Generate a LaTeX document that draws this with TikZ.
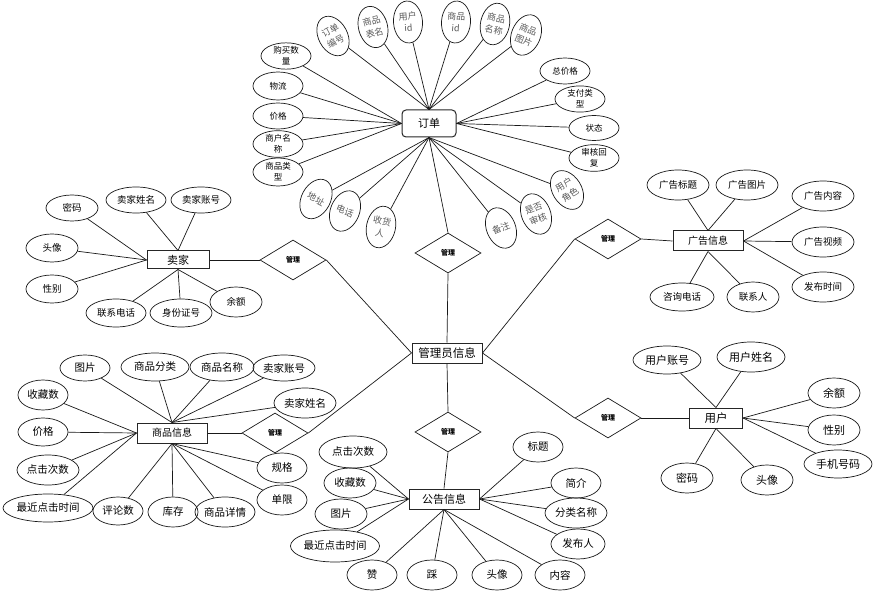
\documentclass[tikz,border=0pt]{standalone}
\usepackage{fontspec}
\newfontfamily\cjk{Noto Sans CJK SC}
\usetikzlibrary{shapes.geometric}
\tikzset{
  ent/.style={draw=black!85, line width=1pt, inner sep=0pt, fill=white},
  att/.style={draw=black!90, ellipse, inner sep=0pt, line width=0.7pt, align=center},
  rel/.style={draw=black!90, diamond, inner sep=0pt, minimum width=66pt, minimum height=40pt, line width=0.7pt, font=\cjk\bfseries\fontsize{7}{8}\selectfont},
  conn/.style={line width=0.7pt, black!90},
  rot/.style={att, text=black!65, font=\cjk\fontsize{9}{12}\selectfont, minimum width=29pt, minimum height=42pt},
  fa/.style={font=\cjk\fontsize{8.5}{11}\selectfont},
  fb/.style={font=\cjk\fontsize{9.5}{11}\selectfont},
  fc/.style={font=\cjk\fontsize{10.5}{12}\selectfont},
  fd/.style={font=\cjk\fontsize{11}{13}\selectfont},
}
\begin{document}
\begin{tikzpicture}[x=1pt,y=-1pt]
\useasboundingbox[fill=white] (0,0) rectangle (884,596);

% ---------- entities ----------
\node[ent, rounded corners=4pt, minimum width=54pt, minimum height=27pt, font=\cjk\fontsize{11}{13}\selectfont] (dd) at (429,123.5) {订单};
\node[ent, minimum width=70pt, minimum height=20pt, font=\cjk\fontsize{11.5}{13}\selectfont] (gly) at (447,353) {管理员信息};
\node[ent, minimum width=62pt, minimum height=18pt, font=\cjk\fontsize{11}{13}\selectfont] (mj) at (178,260) {卖家};
\node[ent, minimum width=70pt, minimum height=20pt, font=\cjk\fontsize{10}{12}\selectfont] (sp) at (172,433) {商品信息};
\node[ent, minimum width=70pt, minimum height=20pt, font=\cjk\fontsize{10}{12}\selectfont] (gx) at (708,241) {广告信息};
\node[ent, minimum width=53pt, minimum height=20pt, font=\cjk\fontsize{11.5}{13}\selectfont] (yh) at (716,418) {用户};
\node[ent, minimum width=70pt, minimum height=20pt, font=\cjk\fontsize{11}{13}\selectfont] (gg) at (444,499) {公告信息};

% ---------- relationships ----------
\node[rel] (r1) at (293,260) {管理};
\node[rel] (r2) at (448,253) {管理};
\node[rel] (r3) at (608,239) {管理};
\node[rel] (r4) at (275,433) {管理};
\node[rel] (r5) at (448,432) {管理};
\node[rel] (r6) at (608,418) {管理};

\draw[conn] (mj.east) -- (r1.west);
\draw[conn] (r1.east) -- (gly.west);
\draw[conn] (dd.south) -- (r2.north);
\draw[conn] (r2.south) -- (gly.north);
\draw[conn] (r3.east) -- (gx.west);
\draw[conn] (r3.west) -- (gly.east);
\draw[conn] (sp.east) -- (r4.west);
\draw[conn] (r4.east) -- (gly.west);
\draw[conn] (gly.south) -- (r5.north);
\draw[conn] (r5.south) -- (gg.north);
\draw[conn] (r6.east) -- (yh.west);
\draw[conn] (r6.west) -- (gly.east);

% ---------- 订单 attributes ----------
\node[rot, rotate=28] (o1) at (333,36) {订单\\编号};
\node[rot, rotate=15] (o2) at (373,27) {商品\\表名};
\node[rot, rotate=4] (o3) at (408,22) {用户\\id};
\node[rot, rotate=-4] (o4) at (456,22) {商品\\id};
\node[rot, rotate=-12] (o5) at (495,24) {商品\\名称};
\node[rot, rotate=-22] (o6) at (526,35) {商品\\图片};
\foreach \n in {o1,o2,o3,o4,o5,o6} \draw[conn] (dd.north) -- (\n);

\node[att, fa, minimum width=50pt, minimum height=26pt] (o7) at (286,56) {购买数\\量};
\node[att, fa, minimum width=50pt, minimum height=28pt] (o8) at (278,86) {物流};
\node[att, fa, minimum width=50pt, minimum height=26pt] (o9) at (278,116) {价格};
\node[att, fa, minimum width=50pt, minimum height=26pt] (o10) at (278,144) {商户名\\称};
\node[att, fa, minimum width=50pt, minimum height=28pt] (o11) at (278,172) {商品类\\型};
\foreach \n in {o7,o8,o9,o10,o11} \draw[conn] (dd.west) -- (\n);

\node[rot, rotate=-28] (o12) at (316,199) {地址};
\node[rot, rotate=-22] (o13) at (345,211) {电话};
\node[rot, rotate=-12] (o14) at (381,227) {收货\\人};
\node[rot, rotate=22] (o15) at (501,228) {备注};
\node[rot, rotate=22] (o16) at (536,214) {是否\\审核};
\node[rot, rotate=32] (o17) at (567,190) {用户\\角色};
\foreach \n in {o12,o13,o14,o15,o16,o17} \draw[conn] (dd.south) -- (\n);

\node[att, fa, minimum width=50pt, minimum height=26pt] (o18) at (565,71) {总价格};
\node[att, fa, minimum width=50pt, minimum height=25pt] (o19) at (580,99) {支付类\\型};
\node[att, fa, minimum width=50pt, minimum height=25pt] (o20) at (594,128) {状态};
\node[att, fa, minimum width=50pt, minimum height=26pt] (o21) at (594,158) {审核回\\复};
\foreach \n in {o18,o19,o20,o21} \draw[conn] (dd.east) -- (\n);

% ---------- 卖家 attributes ----------
\node[att, fb, minimum width=52pt, minimum height=26pt] (m1) at (72,208) {密码};
\node[att, fb, minimum width=52pt, minimum height=28pt] (m2) at (52,248) {头像};
\node[att, fb, minimum width=52pt, minimum height=28pt] (m3) at (52,289) {性别};
\foreach \n in {m1,m2,m3} \draw[conn] (mj.west) -- (\n);
\node[att, fb, minimum width=60pt, minimum height=26pt] (m4) at (136,200) {卖家姓名};
\node[att, fb, minimum width=60pt, minimum height=26pt] (m5) at (201,200) {卖家账号};
\foreach \n in {m4,m5} \draw[conn] (mj.north) -- (\n);
\node[att, fb, minimum width=60pt, minimum height=28pt] (m6) at (116,313) {联系电话};
\node[att, fb, minimum width=62pt, minimum height=28pt] (m7) at (181,313) {身份证号};
\node[att, fb, minimum width=52pt, minimum height=30pt] (m8) at (236,302) {余额};
\foreach \n in {m6,m7,m8} \draw[conn] (mj.south) -- (\n);

% ---------- 广告信息 attributes ----------
\node[att, fb, minimum width=62pt, minimum height=30pt] (a1) at (678,185) {广告标题};
\node[att, fb, minimum width=62pt, minimum height=30pt] (a2) at (747,185) {广告图片};
\foreach \n in {a1,a2} \draw[conn] (gx.north) -- (\n);
\node[att, fb, minimum width=62pt, minimum height=30pt] (a3) at (823,196) {广告内容};
\node[att, fb, minimum width=62pt, minimum height=30pt] (a4) at (823,242) {广告视频};
\node[att, fb, minimum width=62pt, minimum height=30pt] (a5) at (823,287) {发布时间};
\foreach \n in {a3,a4,a5} \draw[conn] (gx.east) -- (\n);
\node[att, fb, minimum width=64pt, minimum height=28pt] (a6) at (682,297) {咨询电话};
\node[att, fb, minimum width=52pt, minimum height=30pt] (a7) at (753,297) {联系人};
\foreach \n in {a6,a7} \draw[conn] (gx.south) -- (\n);

% ---------- 用户 attributes ----------
\node[att, fd, minimum width=68pt, minimum height=28pt] (u1) at (667,360) {用户账号};
\node[att, fd, minimum width=68pt, minimum height=30pt] (u2) at (751,357) {用户姓名};
\foreach \n in {u1,u2} \draw[conn] (yh.north) -- (\n);
\node[att, fd, minimum width=52pt, minimum height=30pt] (u3) at (834,393) {余额};
\node[att, fd, minimum width=52pt, minimum height=30pt] (u4) at (834,430) {性别};
\node[att, fd, minimum width=68pt, minimum height=28pt] (u5) at (838,464) {手机号码};
\foreach \n in {u3,u4,u5} \draw[conn] (yh.east) -- (\n);
\node[att, fd, minimum width=52pt, minimum height=30pt] (u6) at (687,478) {密码};
\node[att, fd, minimum width=52pt, minimum height=30pt] (u7) at (767,480) {头像};
\foreach \n in {u6,u7} \draw[conn] (yh.south) -- (\n);

% ---------- 商品信息 attributes ----------
\node[att, fc, minimum width=50pt, minimum height=26pt] (s1) at (85,368) {图片};
\node[att, fc, minimum width=68pt, minimum height=28pt] (s2) at (155,367) {商品分类};
\node[att, fc, minimum width=64pt, minimum height=28pt] (s3) at (222,367) {商品名称};
\node[att, fc, minimum width=62pt, minimum height=26pt] (s4) at (284,368) {卖家账号};
\node[att, fc, minimum width=62pt, minimum height=30pt] (s5) at (305,403) {卖家姓名};
\foreach \n in {s1,s2,s3,s4,s5} \draw[conn] (sp.north) -- (\n);
\node[att, fc, minimum width=50pt, minimum height=30pt] (s6) at (43,395) {收藏数};
\node[att, fc, minimum width=50pt, minimum height=28pt] (s7) at (43,432) {价格};
\node[att, fc, minimum width=62pt, minimum height=30pt] (s8) at (48,470) {点击次数};
\node[att, fc, minimum width=90pt, minimum height=28pt] (s9) at (48,508) {最近点击时间};
\foreach \n in {s6,s7,s8,s9} \draw[conn] (sp.west) -- (\n);
\node[att, fc, minimum width=50pt, minimum height=28pt] (s10) at (118,511) {评论数};
\node[att, fc, minimum width=50pt, minimum height=30pt] (s11) at (173,512) {库存};
\node[att, fc, minimum width=60pt, minimum height=30pt] (s12) at (225,512) {商品详情};
\node[att, fc, minimum width=50pt, minimum height=30pt] (s13) at (282,468) {规格};
\node[att, fc, minimum width=50pt, minimum height=30pt] (s14) at (282,500) {单限};
\foreach \n in {s10,s11,s12,s13,s14} \draw[conn] (sp.south) -- (\n);

% ---------- 公告信息 attributes ----------
\node[att, fc, minimum width=68pt, minimum height=32pt] (g1) at (353,452) {点击次数};
\node[att, fc, minimum width=52pt, minimum height=30pt] (g2) at (350,483) {收藏数};
\node[att, fc, minimum width=52pt, minimum height=30pt] (g3) at (341,514) {图片};
\node[att, fc, minimum width=72pt, minimum height=32pt] (g4) at (335,546) {最近点击时间};
\foreach \n in {g1,g2,g3,g4} \draw[conn] (gg.west) -- (\n);
\node[att, fc, minimum width=50pt, minimum height=30pt] (g5) at (372,575) {赞};
\node[att, fc, minimum width=50pt, minimum height=30pt] (g6) at (432,575) {踩};
\node[att, fc, minimum width=50pt, minimum height=30pt] (g7) at (497,575) {头像};
\node[att, fc, minimum width=50pt, minimum height=30pt] (g8) at (560,575) {内容};
\foreach \n in {g5,g6,g7,g8} \draw[conn] (gg.south) -- (\n);
\node[att, fc, minimum width=50pt, minimum height=30pt] (g9) at (538,447) {标题};
\node[att, fc, minimum width=50pt, minimum height=30pt] (g10) at (576,483) {简介};
\node[att, fc, minimum width=62pt, minimum height=30pt] (g11) at (576,513) {分类名称};
\node[att, fc, minimum width=54pt, minimum height=30pt] (g12) at (578,544) {发布人};
\foreach \n in {g9,g10,g11,g12} \draw[conn] (gg.east) -- (\n);
\end{tikzpicture}
\end{document}
